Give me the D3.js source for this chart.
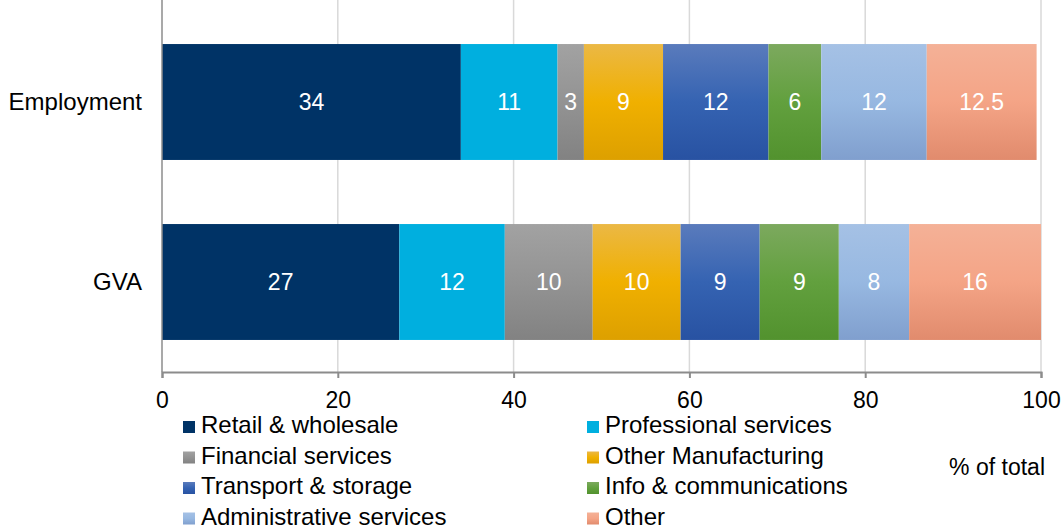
<!DOCTYPE html>
<html>
<head>
<meta charset="utf-8">
<script src="https://cdn.jsdelivr.net/npm/d3@7"></script>
<style>
  html, body { margin: 0; padding: 0; background: #fff; }
  svg { display: block; font-family: "Liberation Sans", Arial, sans-serif; }
</style>
</head>
<body>
<svg id="chart" width="1063" height="529"></svg>
<script>
// Share of total by sector (%)
const categories = ["Employment", "GVA"];
const sectors = [
  "Retail & wholesale", "Professional services", "Financial services", "Other Manufacturing",
  "Transport & storage", "Info & communications", "Administrative services", "Other"
];
const employment = [34, 11, 3, 9, 12, 6, 12, 12.5];
const gva = [27, 12, 10, 10, 9, 9, 8, 16];
const xTicks = [0, 20, 40, 60, 80, 100];
const axisTitle = "% of total";

// top / middle / bottom colours for each sector's vertical gradient
const palette = [
  ["#003366", "#003366", "#003366"],
  ["#00AFDF", "#00AFDF", "#00AFDF"],
  ["#A2A2A2", "#939393", "#828282"],
  ["#EBB845", "#F0B000", "#DDA000"],
  ["#5A7BBC", "#3563B2", "#2852A2"],
  ["#7CA95E", "#62A03E", "#52922E"],
  ["#A5C1E5", "#97B8E1", "#809FCE"],
  ["#F4B197", "#F4A486", "#E18B6D"]
];

const seriesByCat = { "Employment": employment, "GVA": gva };

const svg = d3.select("#chart");
const plotLeft = 162, plotRight = 1041, plotTop = 12, plotBottom = 372;

const x = d3.scaleLinear().domain([0, 100]).range([plotLeft, plotRight]);
const y = d3.scaleBand().domain(categories).range([plotTop, plotBottom])
  .paddingInner(0.356).paddingOuter(0.178);

const defs = svg.append("defs");
palette.forEach((c, i) => {
  const g = defs.append("linearGradient").attr("id", "grad" + i)
    .attr("x1", 0).attr("y1", 0).attr("x2", 0).attr("y2", 1);
  g.append("stop").attr("offset", "0%").attr("stop-color", c[0]);
  g.append("stop").attr("offset", "50%").attr("stop-color", c[1]);
  g.append("stop").attr("offset", "100%").attr("stop-color", c[2]);
});
defs.append("clipPath").attr("id", "plotClip")
  .append("rect").attr("x", plotLeft).attr("y", 0)
  .attr("width", plotRight - plotLeft).attr("height", plotBottom);

// vertical gridlines
svg.append("g").selectAll("line").data(xTicks.filter(d => d > 0)).join("line")
  .attr("x1", d => x(d)).attr("x2", d => x(d))
  .attr("y1", 0).attr("y2", plotBottom)
  .attr("stroke", "#D9D9D9").attr("stroke-width", 1.5);

// stacked bars
const stacked = categories.map(cat => {
  let acc = 0;
  return seriesByCat[cat].map((v, i) => {
    const seg = { cat, i, v, x0: acc, x1: acc + v };
    acc += v;
    return seg;
  });
}).flat();

const barG = svg.append("g").attr("clip-path", "url(#plotClip)");
barG.selectAll("rect").data(stacked).join("rect")
  .attr("x", d => x(d.x0))
  .attr("y", d => y(d.cat))
  .attr("width", d => x(d.x1) - x(d.x0))
  .attr("height", y.bandwidth())
  .attr("fill", d => `url(#grad${d.i})`);

barG.selectAll("text").data(stacked).join("text")
  .attr("x", d => (x(d.x0) + x(Math.min(d.x1, 100))) / 2)
  .attr("y", d => y(d.cat) + y.bandwidth() / 2)
  .attr("dy", "0.35em")
  .attr("text-anchor", "middle")
  .attr("fill", "#fff")
  .attr("font-size", 23)
  .text(d => d.v);

// y axis line and category labels
svg.append("line")
  .attr("x1", plotLeft).attr("x2", plotLeft).attr("y1", 0).attr("y2", plotBottom)
  .attr("stroke", "#8C8C8C").attr("stroke-width", 1.5);
svg.append("g").selectAll("text").data(categories).join("text")
  .attr("x", 142)
  .attr("y", d => y(d) + y.bandwidth() / 2)
  .attr("dy", "0.35em")
  .attr("text-anchor", "end")
  .attr("font-size", 24)
  .attr("fill", "#000")
  .text(d => d);

// x axis
const xAxis = svg.append("g")
  .attr("transform", `translate(0,${plotBottom})`)
  .call(d3.axisBottom(x).tickValues(xTicks).tickSize(6).tickPadding(14));
xAxis.select(".domain").attr("stroke", "#8C8C8C").attr("stroke-width", 2);
xAxis.selectAll(".tick line").attr("stroke", "#8C8C8C").attr("stroke-width", 2);
xAxis.selectAll(".tick text")
  .attr("font-family", "Liberation Sans, Arial, sans-serif")
  .attr("font-size", 23).attr("fill", "#000");

// legend: two columns
const legend = svg.append("g");
const items = legend.selectAll("g").data(sectors).join("g")
  .attr("transform", (d, i) => {
    const col = i % 2, row = Math.floor(i / 2);
    return `translate(${col === 0 ? 183 : 587},${433 + row * 30.5})`;
  });
items.append("rect")
  .attr("x", 0).attr("y", -12).attr("width", 12).attr("height", 12)
  .attr("fill", (d, i) => `url(#grad${i})`);
items.append("text")
  .attr("x", 18).attr("y", 0)
  .attr("font-size", 24).attr("fill", "#000")
  .text(d => d);

svg.append("text")
  .attr("x", 1045).attr("y", 475)
  .attr("text-anchor", "end")
  .attr("font-size", 23).attr("fill", "#000")
  .text(axisTitle);
</script>
</body>
</html>
